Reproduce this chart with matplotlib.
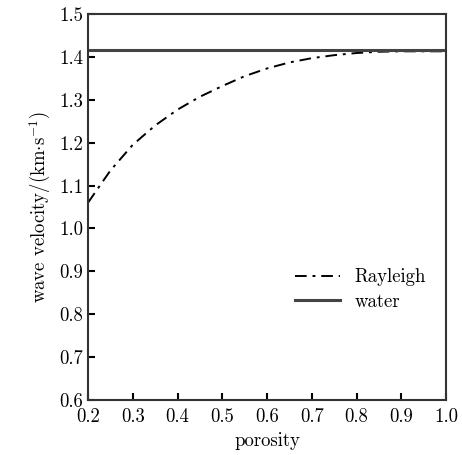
import matplotlib
matplotlib.use("Agg")
import matplotlib.pyplot as plt

plt.rcParams['font.family'] = 'serif'
plt.rcParams['font.serif'] = ['cmr10', 'DejaVu Serif']
plt.rcParams['mathtext.fontset'] = 'cm'
plt.rcParams['axes.formatter.use_mathtext'] = True

# data
porosity = [0.2, 0.25, 0.3, 0.35, 0.4, 0.45, 0.5, 0.55, 0.6, 0.65, 0.7, 0.75, 0.8, 0.85, 0.9, 0.95, 1.0]
rayleigh = [1.06, 1.135, 1.195, 1.24, 1.277, 1.307, 1.332, 1.355, 1.373, 1.387, 1.397, 1.404, 1.409, 1.412, 1.413, 1.413, 1.413]
water = 1.415

xticks = [0.2, 0.3, 0.4, 0.5, 0.6, 0.7, 0.8, 0.9, 1.0]
yticks = [0.6, 0.7, 0.8, 0.9, 1.0, 1.1, 1.2, 1.3, 1.4, 1.5]

fig = plt.figure(figsize=(4.62, 4.55), dpi=100)
ax = fig.add_axes([88 / 462, 55 / 455, 358 / 462, 386 / 455])

ax.plot(porosity, rayleigh, color='black', linestyle=(0, (6, 3, 1.5, 3)), linewidth=1.4, label='Rayleigh')
ax.plot([0.2, 1.0], [water, water], color='#444444', linewidth=2.2, label='water')

ax.set_xlim(0.2, 1.0)
ax.set_ylim(0.6, 1.5)
ax.set_xticks(xticks)
ax.set_yticks(yticks)
ax.set_xticklabels([f"{v:.1f}" for v in xticks])
ax.set_yticklabels([f"{v:.1f}" for v in yticks])
ax.tick_params(direction='in', length=5, width=1.5, labelsize=13.5, top=False, right=False)
ax.tick_params(axis='x', pad=6)

for s in ax.spines.values():
    s.set_linewidth(1.5)
    s.set_color('#333333')

ax.set_xlabel('porosity', fontsize=13.5)
ax.set_ylabel(r'wave velocity/(km$\cdot$s$^{-1}$)', fontsize=13.5)

ax.legend(loc='upper left', bbox_to_anchor=(0.53, 0.385), frameon=False, fontsize=13.5,
          handlelength=2.4, handletextpad=0.8, labelspacing=0.35)

fig.savefig('out.png', dpi=100)
